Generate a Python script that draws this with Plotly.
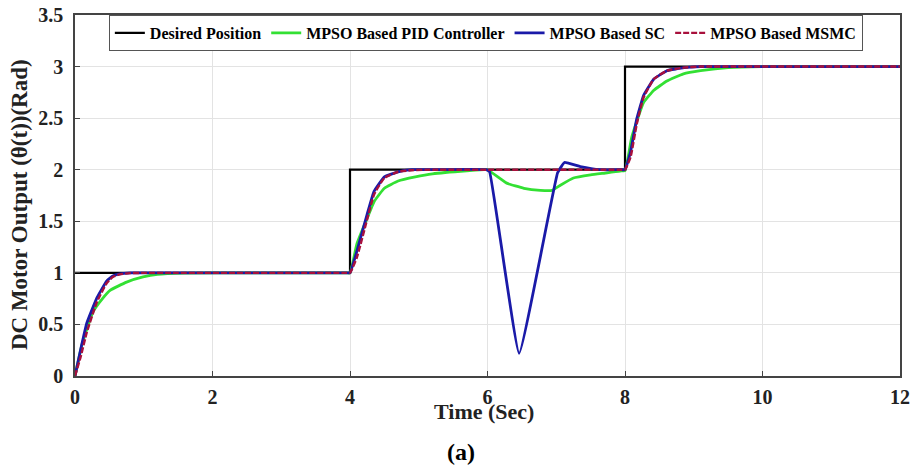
import plotly.graph_objects as go

# Desired position (reference step)
t_des = [0, 4, 4, 8, 8, 12]
y_des = [1, 1, 2, 2, 3, 3]

# MPSO Based PID Controller
t_pid = [0, 0.1, 0.26, 0.4, 0.51, 0.75, 0.99, 1.2, 1.6, 2.5, 3.95, 4.0, 4.1, 4.25, 4.35, 4.5, 4.7, 4.95, 5.2, 5.7,
         5.95, 6.0, 6.28, 6.53, 6.77, 6.94, 7.06, 7.25, 7.5, 7.74, 7.95, 8.0, 8.1, 8.27, 8.42, 8.61, 8.85, 9.1, 9.5, 10, 12]
y_pid = [0, 0.3, 0.62, 0.75, 0.83, 0.91, 0.96, 0.985, 0.997, 1.0, 1.0, 1.0, 1.28, 1.53, 1.69, 1.82, 1.89, 1.93, 1.96, 1.99,
         2.0, 2.0, 1.87, 1.82, 1.80, 1.80, 1.85, 1.92, 1.95, 1.97, 1.99, 1.99, 2.32, 2.65, 2.77, 2.86, 2.93, 2.96, 2.99, 3.0, 3.0]

# MPSO Based SC
t_sc = [0, 0.08, 0.17, 0.32, 0.46, 0.55, 0.65, 0.8, 1.2, 3.95, 4.0, 4.1, 4.25, 4.35, 4.5, 4.7, 4.9, 5.3,
        5.98, 6.03, 6.46, 7.02, 7.12, 7.35, 7.64, 7.95, 8.0, 8.08, 8.17, 8.27, 8.42, 8.61, 8.86, 9.1, 9.6, 12]
y_sc = [0, 0.25, 0.51, 0.76, 0.92, 0.97, 0.99, 1.0, 1.0, 1.0, 1.0, 1.21, 1.57, 1.79, 1.93, 1.98, 2.0, 2.0,
        2.0, 1.98, 0.22, 1.97, 2.07, 2.03, 2.0, 2.0, 2.0, 2.17, 2.49, 2.72, 2.88, 2.96, 2.99, 3.0, 3.0, 3.0]

# MPSO Based MSMC
t_smc = [0, 0.08, 0.17, 0.32, 0.46, 0.55, 0.65, 0.8, 1.0, 1.4, 3.95, 4.0, 4.1, 4.25, 4.35, 4.5, 4.7, 4.9, 5.2, 5.6,
         7.95, 8.0, 8.08, 8.17, 8.27, 8.42, 8.61, 8.86, 9.1, 9.6, 12]
y_smc = [0, 0.18, 0.42, 0.72, 0.9, 0.96, 0.985, 0.997, 1.0, 1.0, 1.0, 1.0, 1.15, 1.52, 1.76, 1.92, 1.98, 1.995, 2.0, 2.0,
         2.0, 2.0, 2.12, 2.44, 2.70, 2.88, 2.96, 2.99, 3.0, 3.0, 3.0]

x_ticks = [0, 2, 4, 6, 8, 10, 12]
y_ticks = [0, 0.5, 1, 1.5, 2, 2.5, 3, 3.5]
y_ticklabels = ["0", "0.5", "1", "1.5", "2", "2.5", "3", "3.5"]

FONT = "Liberation Serif"

fig = go.Figure()
fig.add_trace(go.Scatter(x=t_des, y=y_des, mode="lines", name="<b>Desired Position</b>",
                         line=dict(color="black", width=2.2)))
fig.add_trace(go.Scatter(x=t_pid, y=y_pid, mode="lines", name="<b>MPSO Based PID Controller</b>",
                         line=dict(color="#33e033", width=2.8, shape="spline", smoothing=0.4)))
fig.add_trace(go.Scatter(x=t_sc, y=y_sc, mode="lines", name="<b>MPSO Based SC</b>",
                         line=dict(color="#1a1aa8", width=2.8, shape="spline", smoothing=0.3)))
fig.add_trace(go.Scatter(x=t_smc, y=y_smc, mode="lines", name="<b>MPSO Based MSMC</b>",
                         line=dict(color="#a8103c", width=2.4, dash="6px,2px", shape="spline", smoothing=0.4)))

fig.update_layout(
    width=911, height=471,
    margin=dict(l=75, r=11, t=15, b=95, autoexpand=False),
    paper_bgcolor="white", plot_bgcolor="white",
    font=dict(family=FONT, size=20, color="black"),
    showlegend=True,
    legend=dict(orientation="h", x=0.498, xanchor="center", y=1.0, yanchor="top",
                bordercolor="#555555", borderwidth=1, bgcolor="white",
                font=dict(family=FONT, size=16, color="black"),
                itemwidth=30, tracegroupgap=0),
    xaxis=dict(range=[0, 12], tickvals=x_ticks, ticktext=[f"<b>{v}</b>" for v in x_ticks],
               automargin=False,
               showgrid=True, gridcolor="#e3e3e3", gridwidth=1, zeroline=False,
               showline=True, linecolor="#444444", linewidth=1.5, mirror=True,
               ticks="inside", ticklen=5, tickcolor="#444444", ticklabelstandoff=2,
               tickfont=dict(family=FONT, size=20, color="#222222")),
    yaxis=dict(range=[0, 3.5], tickvals=y_ticks, ticktext=[f"<b>{v}</b>" for v in y_ticklabels],
               automargin=False,
               showgrid=True, gridcolor="#e3e3e3", gridwidth=1, zeroline=False,
               showline=True, linecolor="#444444", linewidth=1.5, mirror=True,
               ticks="inside", ticklen=5, tickcolor="#444444", ticklabelstandoff=6,
               tickfont=dict(family=FONT, size=20, color="#222222")),
    annotations=[
        dict(text="<b>Time (Sec)</b>", x=0.496, y=-0.097, xref="paper", yref="paper",
             xanchor="center", yanchor="middle", showarrow=False,
             font=dict(family=FONT, size=22, color="#222222")),
        dict(text="<b>DC Motor Output (θ(t))(Rad)</b>", x=-0.068, y=0.476, xref="paper", yref="paper",
             xanchor="center", yanchor="middle", showarrow=False, textangle=-90,
             font=dict(family=FONT, size=23, color="#222222")),
        dict(text="<b>(a)</b>", x=0.468, y=-0.21, xref="paper", yref="paper",
             xanchor="center", yanchor="middle", showarrow=False,
             font=dict(family=FONT, size=24, color="black")),
    ],
)

fig.write_html("out.html", config={"displayModeBar": False},
               post_script="document.body.style.margin='0';document.body.style.padding='0';")
